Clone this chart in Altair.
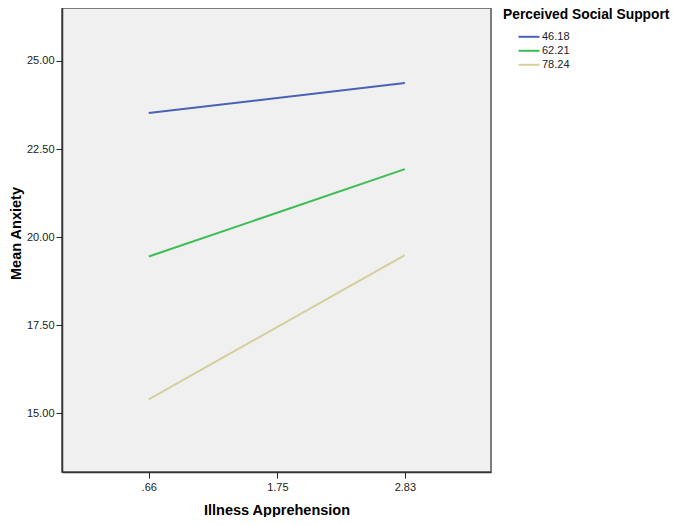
import altair as alt
import pandas as pd

# Data
x_ticks = [0.66, 1.75, 2.83]
x_points = [0.66, 2.83]
support_levels = ["46.18", "62.21", "78.24"]
anxiety_46_18 = [23.52, 24.37]
anxiety_62_21 = [19.45, 21.93]
anxiety_78_24 = [15.40, 19.49]
y_ticks = [15.0, 17.5, 20.0, 22.5, 25.0]
colors = ["#4A62B4", "#3DBE55", "#D5CF9C"]

rows = []
for lvl, vals in zip(support_levels, [anxiety_46_18, anxiety_62_21, anxiety_78_24]):
    for xv, yv in zip(x_points, vals):
        rows.append({"Illness Apprehension": xv, "Mean Anxiety": yv, "Perceived Social Support": lvl})
df = pd.DataFrame(rows)

FONT = "Liberation Sans"

chart = alt.Chart(df).mark_line(strokeWidth=2, clip=True).encode(
    x=alt.X(
        "Illness Apprehension:Q",
        scale=alt.Scale(domain=[-0.075, 3.56], nice=False, zero=False),
        axis=alt.Axis(
            values=x_ticks,
            labelExpr="datum.value < 1 ? slice(format(datum.value, '.2f'), 1) : format(datum.value, '.2f')",
            grid=False,
            tickSize=6,
            tickColor="#222",
            domainColor="#333",
            domainWidth=1.5,
            labelFont=FONT,
            labelFontSize=11,
            labelColor="#222",
            labelPadding=3,
            title="Illness Apprehension",
            titleFont=FONT,
            titleFontSize=14.5,
            titleFontWeight="bold",
            titleColor="#000",
            titlePadding=11,
        ),
    ),
    y=alt.Y(
        "Mean Anxiety:Q",
        scale=alt.Scale(domain=[13.34, 26.50], nice=False, zero=False),
        axis=alt.Axis(
            values=y_ticks,
            format=".2f",
            grid=False,
            tickSize=6,
            tickColor="#222",
            domainColor="#333",
            domainWidth=1.5,
            labelFont=FONT,
            labelFontSize=11,
            labelColor="#222",
            labelPadding=2,
            title="Mean Anxiety",
            titleFont=FONT,
            titleFontSize=14.5,
            titleFontWeight="bold",
            titleColor="#000",
            titleAngle=270,
            titleX=-46,
            titleY=225,
            titleAlign="center",
            titleBaseline="middle",
        ),
    ),
    color=alt.Color(
        "Perceived Social Support:N",
        scale=alt.Scale(domain=support_levels, range=colors),
        legend=alt.Legend(
            orient="none",
            legendX=441,
            legendY=0,
            symbolType="M-1.5,0h3",
            symbolSize=196,
            symbolStrokeWidth=2,
            symbolOffset=18,
            labelOffset=5,
            labelFont=FONT,
            labelFontSize=11,
            labelColor="#222",
            titleFont=FONT,
            titleFontSize=13.8,
            titleFontWeight="bold",
            titleColor="#000",
            titlePadding=7,
            titleLimit=300,
            rowPadding=1,
        ),
    ),
).properties(
    width=429,
    height=464,
    autosize=alt.AutoSizeParams(type="none"),
    padding={"left": 54, "top": 0, "right": 185, "bottom": 45},
).configure_view(
    fill="#F0F0F0",
    stroke="#555",
    strokeWidth=1.5,
)

chart.save("out.html", embed_options={"renderer": "svg", "actions": False})
